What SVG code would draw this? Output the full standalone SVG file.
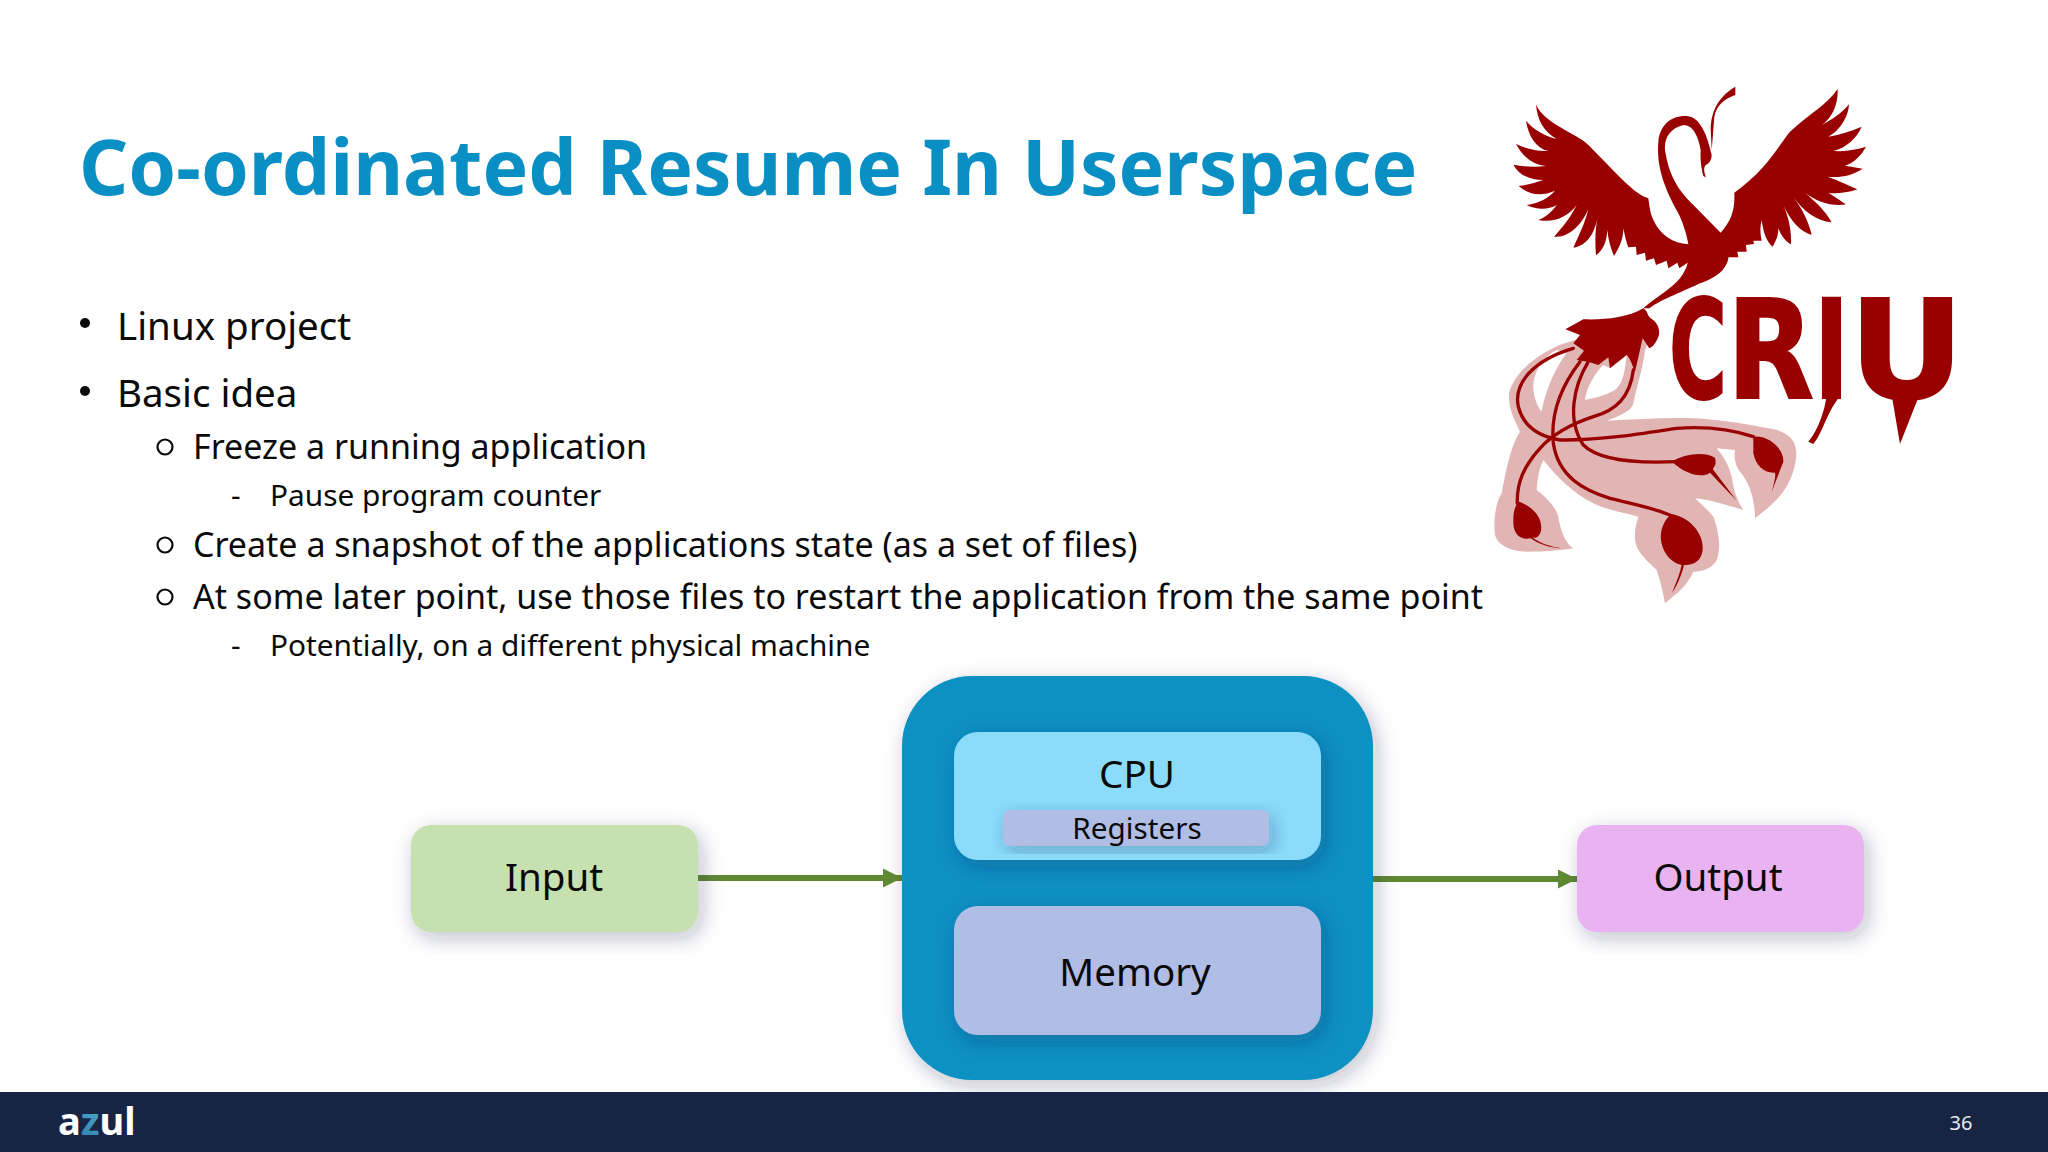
<svg xmlns="http://www.w3.org/2000/svg" width="2048" height="1152" viewBox="0 0 2048 1152">
<style>
text{font-family:"Noto Sans","DejaVu Sans",sans-serif;fill:#0a0a0a}
.l1{font-size:38.5px}.l2{font-size:34px}.l3{font-size:29.8px}
.lb{font-size:38.5px;text-anchor:middle}
.logo{fill:#990000}
.strand{fill:none;stroke:#990000;stroke-width:10;stroke-linecap:round}
.wire{stroke:#5f8a33;stroke-width:6;fill:none;marker-end:url(#arr)}
</style>
<defs>
<filter id="sh" x="-20%" y="-20%" width="140%" height="140%"><feDropShadow dx="4" dy="6" stdDeviation="10" flood-color="#1a2850" flood-opacity=".28"/></filter>
<marker id="arr" markerUnits="userSpaceOnUse" markerWidth="20" markerHeight="20" refX="19" refY="9.5" orient="auto"><path d="M0 0L19 9.5L0 19Z" fill="#5f8a33"/></marker>
<linearGradient id="zg" x1="0" y1="1" x2="1" y2="0"><stop offset="0" stop-color="#1f6f9f"/><stop offset="1" stop-color="#6cc6e4"/></linearGradient>
</defs>
<rect width="2048" height="1152" fill="#fff"/>
<text x="79" y="195" font-size="76.8" font-weight="700" style="fill:#0a8fc4">Co-ordinated Resume In Userspace</text>
<g id="bullets">
<circle cx="85" cy="323" r="5" fill="#0a0a0a"/><text x="117" y="340" class="l1">Linux project</text>
<circle cx="85" cy="391" r="5" fill="#0a0a0a"/><text x="117" y="407" class="l1">Basic idea</text>
<circle cx="165" cy="447" r="7.5" fill="none" stroke="#0a0a0a" stroke-width="2.2"/><text x="193" y="459" class="l2">Freeze a running application</text>
<text x="231" y="506" class="l3">-</text><text x="270" y="506" class="l3">Pause program counter</text>
<circle cx="165" cy="545" r="7.5" fill="none" stroke="#0a0a0a" stroke-width="2.2"/><text x="193" y="557" class="l2">Create a snapshot of the applications state (as a set of files)</text>
<circle cx="165" cy="597" r="7.5" fill="none" stroke="#0a0a0a" stroke-width="2.2"/><text x="193" y="609" class="l2">At some later point, use those files to restart the application from the same point</text>
<text x="231" y="656" class="l3">-</text><text x="270" y="656" class="l3">Potentially, on a different physical machine</text>
</g>
<g id="logo">
<g transform="translate(1460 320) scale(.33333)">
<path d="M345 60C250 85 165 150 147 220C145 270 165 300 180 335C150 380 135 470 125 520C105 550 100 610 105 645C115 680 160 695 200 695C250 695 300 692 340 685C315 670 300 625 295 590C285 555 250 525 230 510C232 470 240 440 250 420C290 470 340 520 400 550C440 570 500 580 535 590C525 620 520 650 530 680C545 710 570 730 590 750C600 780 610 820 615 850C650 820 680 800 700 755C735 755 760 740 770 720C785 680 775 630 760 590C740 565 720 550 705 535C750 540 800 555 850 570C825 530 820 500 815 470C805 430 790 410 770 385L825 390C820 420 830 440 840 455C870 490 885 540 885 595C930 560 965 530 985 490C1005 450 1012 410 1008 390C1005 360 985 340 950 330C900 320 800 300 700 295C620 292 530 298 440 302C490 285 515 270 520 250C530 200 550 140 555 90C565 80 560 60 555 50ZM290 90C250 110 225 150 220 190C218 225 230 255 245 275C252 230 280 150 320 100ZM375 240C380 200 405 160 430 135L450 145L500 105C495 150 490 190 465 210C440 225 400 235 375 240Z" fill="#e2b5b5" fill-rule="evenodd"/>
<path class="strand" d="M340 85C220 120 160 190 175 260C190 320 240 350 300 360C420 362 550 340 650 325C740 318 820 330 880 350"/>
<path class="strand" d="M520 150C510 230 470 270 400 290C340 310 280 340 240 385C190 440 170 490 172 550"/>
<path class="strand" d="M360 125C310 190 270 270 280 370C295 470 370 510 450 535C530 555 590 565 640 590"/>
<path class="strand" d="M385 125C340 200 320 300 370 375C420 425 540 430 650 425"/>
<path class="logo" d="M880 350C930 345 972 390 970 425C960 450 945 490 935 515C942 490 948 470 945 458C915 460 888 440 880 400Z"/>
<path class="logo" d="M636 425C670 403 730 393 765 413C770 430 764 440 758 447L830 542L750 458C725 476 675 462 636 425Z"/>
<path class="logo" d="M635 582C700 595 732 650 728 690C725 722 700 737 672 735C665 765 650 800 636 818C648 790 660 760 665 735C625 728 598 680 603 640C606 615 618 595 635 582Z"/>
<path class="logo" d="M178 545C228 565 248 600 243 632C238 652 225 656 217 652C240 670 270 680 305 685C270 684 235 672 212 655C178 662 158 640 160 600C160 575 165 555 178 545Z"/>
<path class="logo" d="M316 28L370 -2C430 0 500 -5 550 -35C565 -25 560 -15 572 -5C590 5 600 25 597 45C590 65 580 80 568 85L548 55L525 155C515 130 510 115 500 105L450 145L445 112L415 135L385 125L350 120L372 92L340 70L360 45Z"/>
<path class="logo" d="M1100 225C1095 270 1075 330 1045 365L1060 372C1085 345 1100 280 1135 235ZM1295 225L1320 372L1378 225Z"/>
</g>
<g transform="translate(1460 70) scale(.33333)">
<path class="logo" d="M565 385C520 370 480 320 385 225C350 190 250 160 228 103C232 150 250 185 290 207C260 200 220 180 198 152C205 200 230 235 265 243C230 245 195 235 168 222C185 255 215 285 258 288C225 292 190 290 160 284C180 320 215 330 250 330C225 338 200 345 176 348C205 375 245 380 285 362C265 385 235 400 200 405C230 420 265 420 290 405C275 425 260 440 235 450C280 460 325 440 350 405C330 445 305 475 282 500C325 505 365 465 385 418C375 460 355 500 340 533C385 525 405 485 413 440C405 480 405 520 408 556C430 540 440 515 442 480C445 510 452 535 462 558C480 530 490 505 490 475C495 500 500 520 505 532L528 530L530 555L555 548L558 572L582 565L588 585L620 572L625 595L652 578L658 595L683 578C680 595 670 610 660 625C630 660 590 680 550 715L568 715C600 690 680 660 720 640C760 625 800 605 806 560L808 562L835 562L832 545L860 545L858 525L882 522L880 512L905 512C900 490 900 470 905 450C910 490 920 515 938 530C950 510 955 495 955 475C965 500 978 515 993 523C995 480 985 440 970 405C990 450 1020 485 1055 495C1045 450 1025 415 1000 380C1030 425 1070 452 1115 457C1095 420 1065 395 1035 368C1070 395 1115 410 1158 403C1145 395 1125 380 1105 368C1135 372 1165 368 1192 358C1165 345 1135 332 1103 320C1140 325 1180 315 1208 296L1155 287C1180 280 1205 255 1218 230C1185 240 1150 245 1120 243C1160 232 1190 205 1205 170C1170 185 1135 195 1105 200C1135 185 1165 145 1167 103C1145 130 1115 150 1085 165C1115 145 1135 105 1133 57C1100 105 1050 130 990 185C960 220 920 300 823 368C825 420 815 450 782 488L680 385C650 350 625 310 615 240C612 205 630 175 670 165C700 165 715 200 722 240C720 270 725 300 730 318L738 322C732 305 730 295 737 285C750 280 755 265 755 255C745 210 725 140 680 138C640 135 600 160 595 215C590 280 605 340 655 430C665 450 680 490 685 523C640 520 600 495 580 450C570 430 568 405 565 385Z"/>
<path class="logo" d="M826 50L826 75C795 85 770 105 763 140C760 175 758 210 755 240L752 175C755 110 785 75 826 50Z"/>
</g>
<text y="398" font-size="137" font-weight="700" stroke="#990000" stroke-width="2" style="font-family:'DejaVu Sans',sans-serif;fill:#990000"><tspan x="1669" textLength="58" lengthAdjust="spacingAndGlyphs">C</tspan><tspan x="1727" textLength="87" lengthAdjust="spacingAndGlyphs">R</tspan><tspan x="1814" textLength="35" lengthAdjust="spacingAndGlyphs">I</tspan><tspan x="1849" textLength="115" lengthAdjust="spacingAndGlyphs">U</tspan></text>
</g>
<g id="connectors">
<path class="wire" d="M698 878H902"/>
<path class="wire" d="M1373 879H1577"/>
</g>
<g id="input"><rect x="411" y="825" width="287" height="107" rx="20" fill="#c7e0b0" filter="url(#sh)"/><text x="554" y="891" class="lb">Input</text></g>
<g id="output"><rect x="1577" y="825" width="287" height="107" rx="20" fill="#e8b3f0" filter="url(#sh)"/><text x="1718" y="891" class="lb">Output</text></g>
<g id="machine"><rect x="902" y="676" width="471" height="404" rx="70" fill="#0a90c2" filter="url(#sh)"/></g>
<g id="cpu"><rect x="954" y="732" width="367" height="128" rx="24" fill="#8bdcfb" filter="url(#sh)"/><text x="1137" y="788" class="lb">CPU</text></g>
<g id="registers"><rect x="1003" y="810" width="266" height="36" rx="7" fill="#b0bde4" filter="url(#sh)"/><text x="1137" y="839" font-size="29.7" text-anchor="middle">Registers</text></g>
<g id="memory"><rect x="954" y="906" width="367" height="129" rx="24" fill="#b0bde4" filter="url(#sh)"/><text x="1135" y="986" class="lb">Memory</text></g>
<g id="footer">
<rect y="1092" width="2048" height="60" fill="#172443"/>
<text x="58" y="1135" font-size="38" font-weight="700" style="fill:#fff">a<tspan style="fill:url(#zg)">z</tspan>ul</text>
<text x="1961" y="1130" font-size="20" text-anchor="middle" style="fill:#e8eaf0">36</text>
</g>
</svg>
